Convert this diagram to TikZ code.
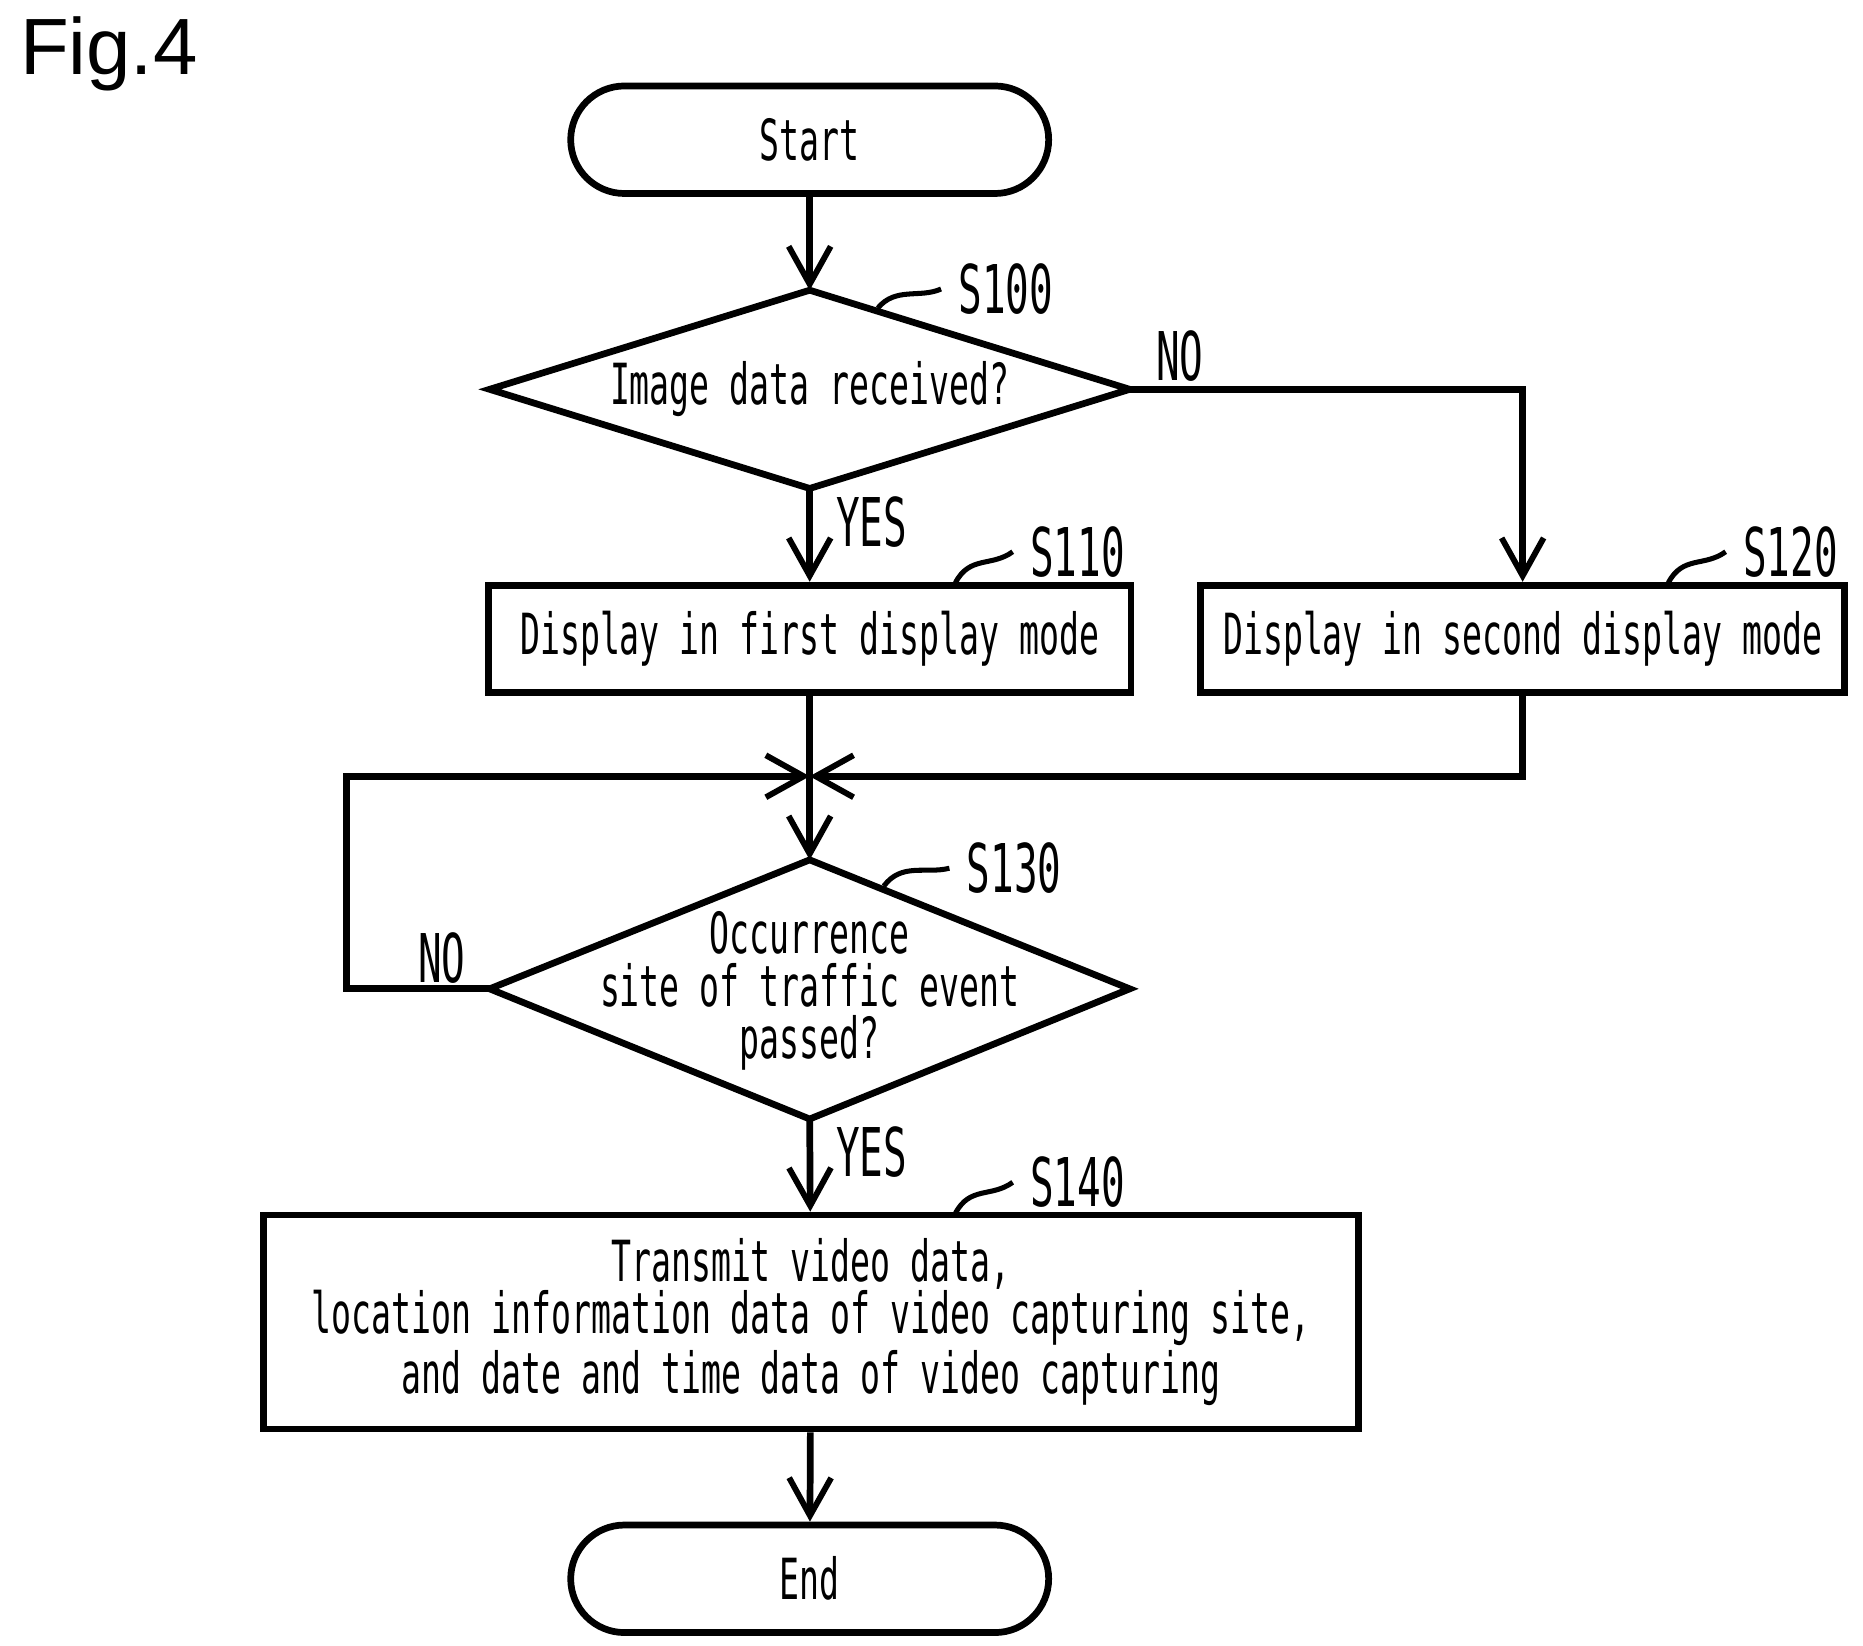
\documentclass[tikz,border=0pt]{standalone}
\usepackage{fontspec}
\newfontfamily\pf[FakeStretch=0.585]{DejaVu Sans Mono}
\newfontfamily\fg{Liberation Sans}
\usetikzlibrary{arrows.meta}
\begin{document}
\begin{tikzpicture}[x=0.01cm,y=-0.01cm,line width=1.6pt,
  txt/.style={font=\pf\fontsize{13.5}{12.5}\selectfont,align=center},
  box/.style={draw,txt,inner sep=0},
  arr/.style={-{Straight Barb[length=9pt,width=10pt,line width=1.4pt]}},
  lab/.style={txt,font=\pf\fontsize{16}{19}\selectfont},
  tl/.style={line width=1.2pt}]
\useasboundingbox (0,0) rectangle (1560,1378);
\node[font=\fg\fontsize{19}{22}\selectfont,anchor=west,inner sep=0] (fig) at (14,45) {Fig.4};
\node[box,minimum width=4cm,minimum height=0.9cm,rounded corners=0.45cm] (start) at (678,117) {Start};
\coordinate (d1t) at (678,243); \coordinate (d1b) at (678,409);
\coordinate (d1l) at (410,326); \coordinate (d1r) at (946,326);
\draw (d1t) -- (d1r) -- (d1b) -- (d1l) -- cycle;
\node[txt] (d1) at (678,326) {Image data received?};
\node[box,minimum width=5.38cm,minimum height=0.9cm] (s110) at (678,535) {Display in first display mode};
\node[box,minimum width=5.39cm,minimum height=0.9cm] (s120) at (1275,535) {Display in second display mode};
\coordinate (d2t) at (678,720); \coordinate (d2b) at (678,937);
\coordinate (d2l) at (410,828); \coordinate (d2r) at (946,828);
\draw (d2t) -- (d2r) -- (d2b) -- (d2l) -- cycle;
\node[txt] (d2) at (678,830) {Occurrence\\site of traffic event\\passed?};
\node[box,minimum width=9.16cm,minimum height=1.79cm] (s140) at (679,1107) {Transmit video data,\\location information data of video capturing site,\\and date and time data of video capturing};
\node[box,minimum width=4cm,minimum height=0.9cm,rounded corners=0.45cm] (end) at (678,1322) {End};
\coordinate (j) at (678,650);
\coordinate (nr) at (1275,326);
\coordinate (r2) at (1275,650);
\coordinate (l1) at (290,828); \coordinate (l2) at (290,650);
\draw[arr] (start) -- (d1t);
\draw[arr] (d1b) -- (s110);
\draw[arr] (d1r) -- (nr) -- (s120);
\draw (s110) -- (j);
\draw[arr] (j) -- (d2t);
\draw[arr] (s120.south) -- (r2) -- (j);
\draw[arr] (d2l) -- (l1) -- (l2) -- (j);
\draw[arr] (d2b) -- (s140);
\draw[arr] (s140) -- (end);
\node[lab] (no1) at (988,298) {NO};
\node[lab] (yes1) at (730,437) {YES};
\node[lab] (no2) at (370,802) {NO};
\node[lab] (yes2) at (730,965) {YES};
\node[lab,anchor=west] (l100) at (788,242) {S100};
\draw[tl] (735,258) .. controls (750,240) and (770,250) .. (l100.west);
\node[lab,anchor=west] (l110) at (848,462) {S110};
\draw[tl] (800,488) .. controls (812,465) and (830,475) .. (l110.west);
\node[lab,anchor=west] (l120) at (1445,462) {S120};
\draw[tl] (1397,488) .. controls (1409,465) and (1427,475) .. (l120.west);
\node[lab,anchor=west] (l130) at (795,727) {S130};
\draw[tl] (740,742) .. controls (755,722) and (775,732) .. (l130.west);
\node[lab,anchor=west] (l140) at (848,990) {S140};
\draw[tl] (800,1016) .. controls (812,993) and (830,1003) .. (l140.west);
\end{tikzpicture}
\end{document}
